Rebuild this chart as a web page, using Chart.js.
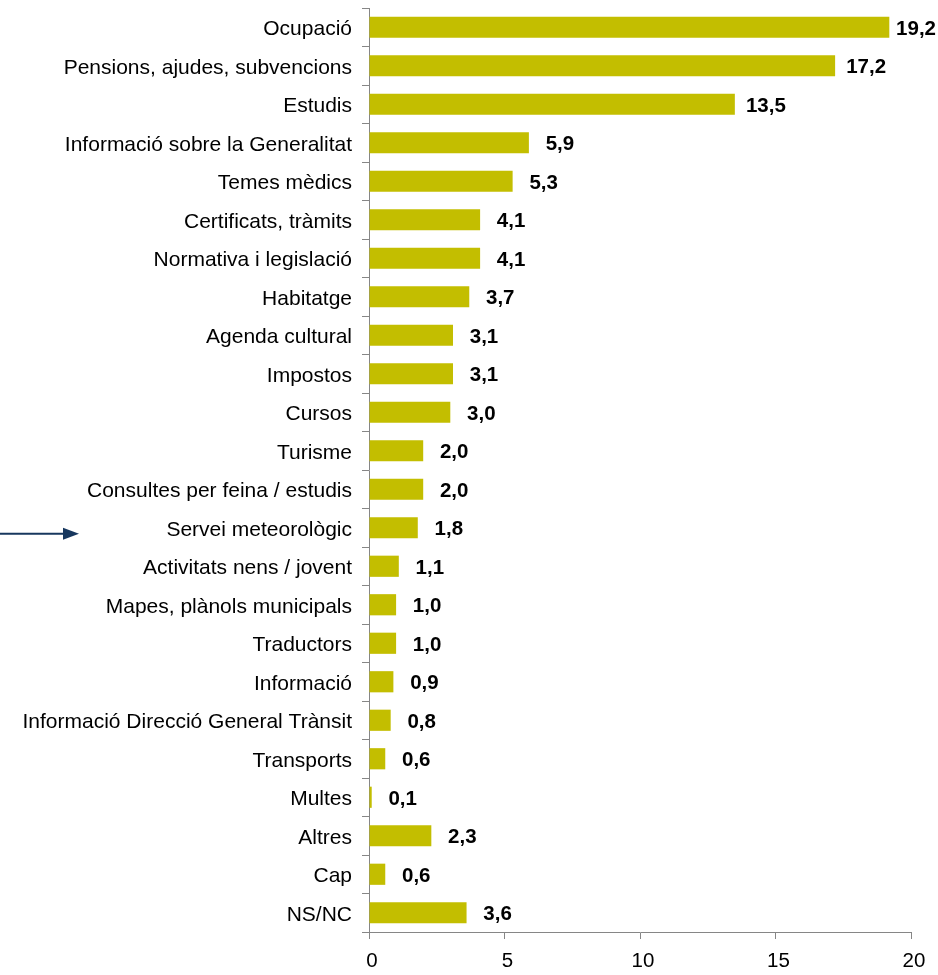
<!DOCTYPE html>
<html>
<head>
<meta charset="utf-8">
<script src="https://cdn.jsdelivr.net/npm/chart.js@4"></script>
<style>
  html, body { margin: 0; padding: 0; background: #fff; }
  #wrap { width: 938px; height: 975px; position: relative; }
</style>
</head>
<body>
<div id="wrap"><canvas id="c" width="938" height="975"></canvas></div>
<script>
const categories = [
  "Ocupació",
  "Pensions, ajudes, subvencions",
  "Estudis",
  "Informació sobre la Generalitat",
  "Temes mèdics",
  "Certificats, tràmits",
  "Normativa i legislació",
  "Habitatge",
  "Agenda cultural",
  "Impostos",
  "Cursos",
  "Turisme",
  "Consultes per feina / estudis",
  "Servei meteorològic",
  "Activitats nens / jovent",
  "Mapes, plànols municipals",
  "Traductors",
  "Informació",
  "Informació Direcció General Trànsit",
  "Transports",
  "Multes",
  "Altres",
  "Cap",
  "NS/NC"
];
const values = [19.2, 17.2, 13.5, 5.9, 5.3, 4.1, 4.1, 3.7, 3.1, 3.1, 3.0, 2.0, 2.0, 1.8, 1.1, 1.0, 1.0, 0.9, 0.8, 0.6, 0.1, 2.3, 0.6, 3.6];
const xTicks = [0, 5, 10, 15, 20];
const highlighted = "Servei meteorològic";

const FONT = "'Liberation Sans', Arial, sans-serif";

// Value labels drawn beside each bar, kept inside the canvas
const valueLabels = {
  id: 'valueLabels',
  afterDatasetsDraw(chart) {
    const ctx = chart.ctx;
    const meta = chart.getDatasetMeta(0);
    ctx.save();
    ctx.font = "bold 20.5px " + FONT;
    ctx.fillStyle = "#000";
    ctx.textBaseline = "middle";
    ctx.textAlign = "left";
    meta.data.forEach((bar, i) => {
      const txt = values[i].toFixed(1).replace('.', ',');
      const w = ctx.measureText(txt).width;
      let x = bar.x + 31 - w / 2;
      if (x + w > chart.width - 2) x = chart.width - 2 - w;
      ctx.fillText(txt, x, bar.y + 2);
    });
    ctx.restore();
  }
};

// Pointer arrow next to the highlighted category
const pointerArrow = {
  id: 'pointerArrow',
  afterDraw(chart) {
    const y = chart.scales.y.getPixelForValue(categories.indexOf(highlighted)) + 6;
    const ctx = chart.ctx;
    ctx.save();
    ctx.strokeStyle = "#17375E";
    ctx.fillStyle = "#17375E";
    ctx.lineWidth = 2;
    ctx.beginPath();
    ctx.moveTo(0, y);
    ctx.lineTo(66, y);
    ctx.stroke();
    ctx.beginPath();
    ctx.moveTo(79, y);
    ctx.lineTo(63, y - 6);
    ctx.lineTo(63, y + 6);
    ctx.closePath();
    ctx.fill();
    ctx.restore();
  }
};

new Chart(document.getElementById('c'), {
  type: 'bar',
  data: {
    labels: categories,
    datasets: [{
      data: values,
      backgroundColor: "#C3BE00",
      borderWidth: 0,
      categoryPercentage: 1.0,
      barPercentage: 0.55
    }]
  },
  options: {
    indexAxis: 'y',
    responsive: false,
    animation: false,
    layout: { padding: { top: 8, right: 27, left: 0, bottom: 0 } },
    plugins: {
      legend: { display: false },
      tooltip: { enabled: false }
    },
    scales: {
      x: {
        min: 0,
        max: 20,
        afterBuildTicks(scale) { scale.ticks = xTicks.map(v => ({ value: v })); },
        afterFit(scale) { scale.height = 43; scale.paddingLeft = 0; scale.paddingRight = 0; },
        border: { display: true, color: "#868686", width: 1 },
        grid: { display: true, drawOnChartArea: false, drawTicks: true, tickLength: 7, color: "#868686" },
        ticks: {
          color: "#000",
          font: { family: FONT, size: 20.5 },
          padding: 10,
          labelOffset: 3,
          maxRotation: 0
        }
      },
      y: {
        afterFit(scale) { scale.width = 369; scale.paddingTop = 0; scale.paddingBottom = 0; },
        border: { display: true, color: "#868686", width: 1 },
        grid: { display: true, offset: true, drawOnChartArea: false, drawTicks: true, tickLength: 7, color: "#868686" },
        ticks: {
          color: "#000",
          font: { family: FONT, size: 21 },
          padding: 10,
          labelOffset: 2,
          autoSkip: false
        }
      }
    }
  },
  plugins: [valueLabels, pointerArrow]
});
</script>
</body>
</html>
